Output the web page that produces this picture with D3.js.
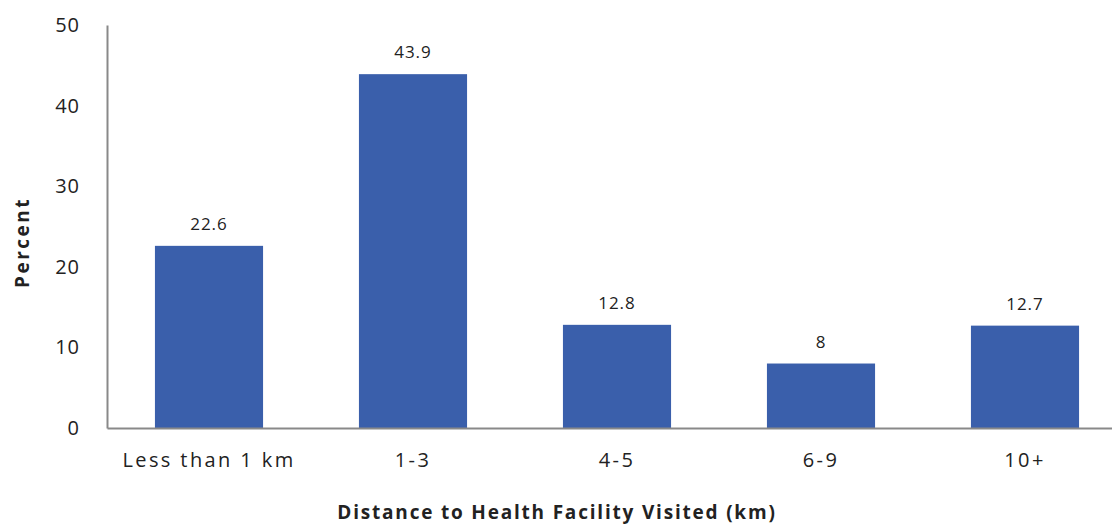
<!DOCTYPE html>
<html>
<head>
<meta charset="utf-8">
<script src="https://cdn.jsdelivr.net/npm/d3@7"></script>
<style>
  body { margin: 0; background: #fff; }
  text { font-family: "Open Sans", "DejaVu Sans", sans-serif; fill: #222; }
</style>
</head>
<body>
<div id="chart"></div>
<script>
var categories = ["Less than 1 km", "1-3", "4-5", "6-9", "10+"];
var values = [22.6, 43.9, 12.8, 8, 12.7];
var yTicks = [0, 10, 20, 30, 40, 50];

var W = 1112, H = 532;
var m = {top: 25, left: 107, bottom: 104};
var step = 204;

var svg = d3.select("#chart").append("svg")
    .attr("width", W)
    .attr("height", H);

var x = d3.scaleBand()
    .domain(categories)
    .range([m.left, m.left + step * categories.length])
    .paddingInner(0.47)
    .paddingOuter(0.235);

var y = d3.scaleLinear()
    .domain([0, 50])
    .range([H - m.bottom, m.top]);

// bars
svg.selectAll(".bar")
    .data(values)
    .enter().append("rect")
    .attr("class", "bar")
    .attr("x", function(d, i) { return x(categories[i]); })
    .attr("y", function(d) { return y(d); })
    .attr("width", x.bandwidth())
    .attr("height", function(d) { return y(0) - y(d); })
    .attr("fill", "#3a5fab");

// value labels
svg.selectAll(".lbl")
    .data(values)
    .enter().append("text")
    .attr("class", "lbl")
    .attr("x", function(d, i) { return x(categories[i]) + x.bandwidth() / 2; })
    .attr("y", function(d) { return y(d) - 16; })
    .attr("text-anchor", "middle")
    .style("font-size", "17px")
    .style("letter-spacing", "1px")
    .text(function(d) { return d; });

// y axis
var yAxis = svg.append("g")
    .attr("transform", "translate(" + m.left + ",0)")
    .call(d3.axisLeft(y).tickValues(yTicks).tickSize(0).tickPadding(27));
yAxis.select(".domain").attr("stroke", "#898989").attr("stroke-width", 2);
yAxis.selectAll("text").style("font-size", "20px").attr("fill", "#222")
    .style("letter-spacing", "1px")
    .style("font-family", "'Open Sans', sans-serif");

// x axis
var xAxis = svg.append("g")
    .attr("transform", "translate(0," + y(0) + ")")
    .call(d3.axisBottom(x).tickSize(0).tickPadding(25));
xAxis.select(".domain").attr("stroke", "#898989").attr("stroke-width", 2);
xAxis.selectAll("text").style("font-size", "20px").attr("fill", "#222")
    .style("letter-spacing", "2.4px")
    .style("font-family", "'Open Sans', sans-serif");

// axis titles
svg.append("text")
    .attr("transform", "translate(29," + ((y(0) + y(50)) / 2 + 16) + ") rotate(-90)")
    .attr("text-anchor", "middle")
    .style("font-size", "19px")
    .style("font-weight", "bold")
    .style("letter-spacing", "2.5px")
    .text("Percent");

svg.append("text")
    .attr("x", 557)
    .attr("y", 519)
    .attr("text-anchor", "middle")
    .style("font-size", "19px")
    .style("font-weight", "bold")
    .style("letter-spacing", "1.8px")
    .text("Distance to Health Facility Visited (km)");
</script>
</body>
</html>
